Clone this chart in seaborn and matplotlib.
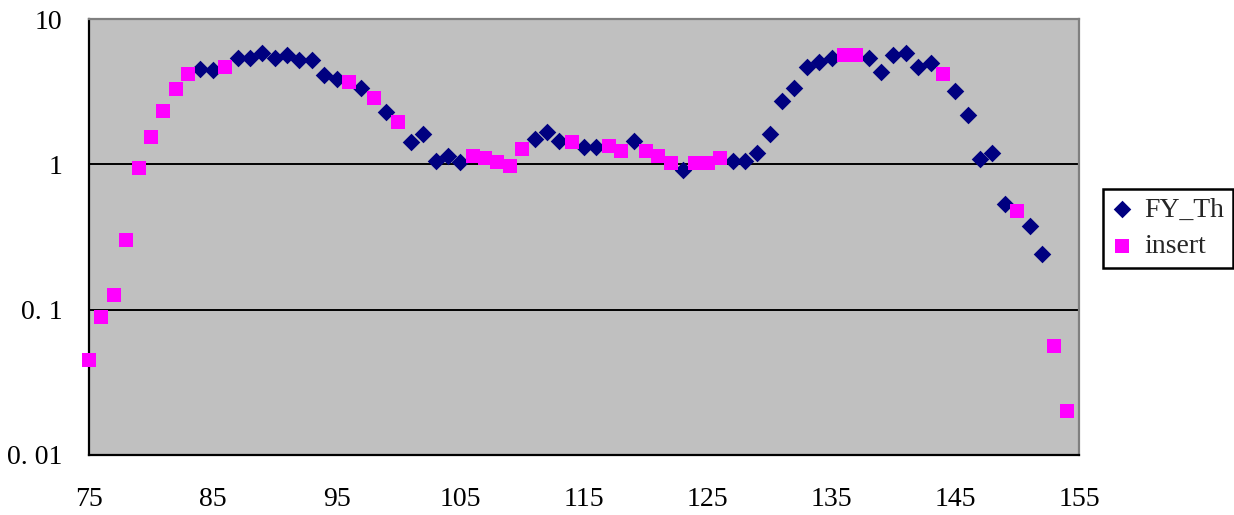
import matplotlib
matplotlib.use("Agg")
import matplotlib.pyplot as plt
import seaborn as sns
import pandas as pd

# ---- data ----
fy_x = [84, 85, 87, 88, 89, 90, 91, 92, 93, 94, 95, 97, 99, 101, 102, 103, 104, 105,
        111, 112, 113, 115, 116, 119, 123, 127, 128, 129, 130, 131, 132, 133, 134, 135,
        138, 139, 140, 141, 142, 143, 145, 146, 147, 148, 149, 151, 152]
fy_y = [4.5, 4.46, 5.42, 5.37, 5.86, 5.42, 5.65, 5.22, 5.22, 4.12, 3.85, 3.33, 2.28, 1.43, 1.62, 1.05, 1.15, 1.04,
        1.49, 1.68, 1.45, 1.32, 1.32, 1.45, 0.91, 1.05, 1.05, 1.19, 1.61, 2.73, 3.33, 4.66, 5.09, 5.42,
        5.42, 4.30, 5.65, 5.86, 4.66, 5.0, 3.2, 2.19, 1.09, 1.19, 0.533, 0.378, 0.240]

ins_x = [75, 76, 77, 78, 79, 80, 81, 82, 83, 86, 96, 98, 100, 106, 107, 108, 109, 110,
         114, 117, 118, 120, 121, 122, 124, 125, 126, 136, 137, 144, 150, 153, 154]
ins_y = [0.045, 0.0895, 0.126, 0.30, 0.944, 1.55, 2.34, 3.3, 4.16, 4.65, 3.71, 2.85, 1.95, 1.14, 1.10, 1.03, 0.98, 1.27,
         1.43, 1.34, 1.24, 1.24, 1.15, 1.02, 1.02, 1.02, 1.10, 5.65, 5.65, 4.16, 0.477, 0.0565, 0.0202]

x_ticks = [75, 85, 95, 105, 115, 125, 135, 145, 155]
y_ticks = [0.01, 0.1, 1, 10]
y_tick_labels = ["0. 01", "0. 1", "1", "10"]
grid_levels = [0.1, 1]

series_names = ["FY_Th", "insert"]

df_fy = pd.DataFrame({"x": fy_x, "y": fy_y})
df_ins = pd.DataFrame({"x": ins_x, "y": ins_y})

# ---- style ----
sns.set_style("white")
plt.rcParams["font.family"] = ["Liberation Serif", "DejaVu Serif"]

fig = plt.figure(figsize=(12.34, 5.15), dpi=100)
ax = fig.add_axes([89 / 1234, 1 - 455 / 515, 990 / 1234, 436 / 515])
ax.set_facecolor("#C0C0C0")

for lv in grid_levels:
    ax.axhline(lv, color="black", lw=1.4, zorder=1)

sns.scatterplot(data=df_fy, x="x", y="y", ax=ax, marker="D", s=80, color="#000080",
                linewidth=0, label=series_names[0], zorder=3, clip_on=False)
sns.scatterplot(data=df_ins, x="x", y="y", ax=ax, marker="s", s=110, color="#FF00FF",
                linewidth=0, label=series_names[1], zorder=4, clip_on=False)

ax.set_yscale("log")
ax.set_xlim(75, 155)
ax.set_ylim(0.01, 10)
ax.set_xticks(x_ticks)
ax.set_xticklabels([str(v) for v in x_ticks])
ax.set_yticks(y_ticks)
ax.set_yticklabels(y_tick_labels)
ax.minorticks_off()
ax.set_xlabel("")
ax.set_ylabel("")

ax.tick_params(axis="both", direction="in", length=5, width=1.5, color="black",
               labelsize=20, labelcolor="black")
ax.tick_params(axis="x", pad=23)
ax.tick_params(axis="y", pad=19)

for side in ["left", "bottom"]:
    ax.spines[side].set_color("black")
    ax.spines[side].set_linewidth(1.6)
for side in ["top", "right"]:
    ax.spines[side].set_color("#808080")
    ax.spines[side].set_linewidth(1.6)

leg = ax.legend(loc="center left", bbox_to_anchor=(1.024, 0.52), borderaxespad=0,
                fontsize=20, frameon=True, fancybox=False, edgecolor="black",
                borderpad=0.3, labelspacing=0.4, handlelength=0.8, handletextpad=0.4,
                handleheight=0.7, framealpha=1)
leg.get_frame().set_linewidth(1.8)

fig.savefig("out.png", dpi=100)
